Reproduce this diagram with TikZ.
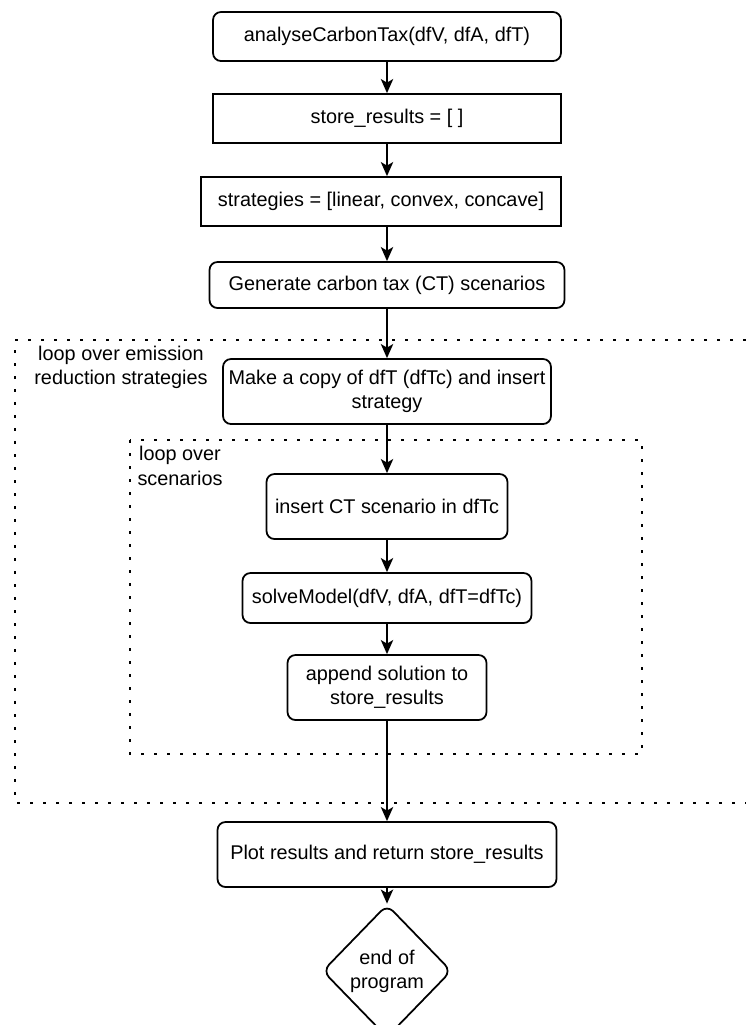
\documentclass[tikz,border=0pt]{standalone}
\usepackage{fontspec}
\setmainfont{Liberation Sans}
\usetikzlibrary{arrows.meta, shapes.geometric}

\begin{document}
\begin{tikzpicture}[x=0.02cm, y=-0.02cm,
  font=\fontsize{11.3}{13.8}\selectfont,
  procbox/.style={draw, line width=1pt, rounded corners=4.5pt, align=center, inner sep=0pt},
  plainbox/.style={draw, line width=1pt, align=center, inner sep=0pt},
  endbox/.style={draw, line width=1pt, diamond, rounded corners=5pt, align=center, inner sep=0pt},
  loopframe/.style={line width=1.6pt, dash pattern=on 1.6pt off 5.8pt},
  flow/.style={-{Stealth[length=8pt, width=7pt, inset=2pt]}, line width=1pt}]
  \path[use as bounding box, clip] (0,0) rectangle (746,1025);

  % loop frames
  \draw[loopframe] (746,340) -| (15,803) -- (746,803);
  \draw[loopframe] (130,440) rectangle (642,754);
  \node (outerlbl) at (121,367) [align=center] {loop over emission\\reduction strategies};
  \node (innerlbl) at (180,466) [align=center] {loop over\\scenarios};

  % steps
  \node (start) at (387,36.5) [procbox, minimum width=6.96cm, minimum height=0.98cm] {analyseCarbonTax(dfV, dfA, dfT)};
  \node (init) at (387,118.5) [plainbox, minimum width=6.96cm, minimum height=0.98cm] {store\_results = [ ]};
  \node (strat) at (381,201.5) [plainbox, minimum width=7.2cm, minimum height=0.98cm] {strategies = [linear, convex, concave]};
  \node (gen) at (387,285) [procbox, minimum width=7.1cm, minimum height=0.92cm] {Generate carbon tax (CT) scenarios};
  \node (copy) at (387,391.5) [procbox, minimum width=6.56cm, minimum height=1.3cm] {Make a copy of dfT (dfTc) and insert\\strategy};
  \node (insert) at (387,506.5) [procbox, minimum width=4.82cm, minimum height=1.3cm] {insert CT scenario in dfTc};
  \node (solve) at (387,598) [procbox, minimum width=5.78cm, minimum height=1.0cm] {solveModel(dfV, dfA, dfT=dfTc)};
  \node (append) at (387,687.5) [procbox, minimum width=3.98cm, minimum height=1.3cm] {append solution to\\store\_results};
  \node (plot) at (387,854.5) [procbox, minimum width=6.78cm, minimum height=1.3cm] {Plot results and return store\_results};
  \node (finish) at (387,971) [endbox, minimum width=2.58cm, minimum height=2.66cm] {end of\\program};

  \draw[flow] (start) -- (init);
  \draw[flow] (init) -- (init |- strat.north);
  \draw[flow] (strat.south -| gen) -- (gen);
  \draw[flow] (gen) -- (copy);
  \draw[flow] (copy) -- (insert);
  \draw[flow] (insert) -- (solve);
  \draw[flow] (solve) -- (append);
  \draw[flow] (append) -- (plot);
  \draw[flow] (plot) -- (finish);
\end{tikzpicture}
\end{document}
